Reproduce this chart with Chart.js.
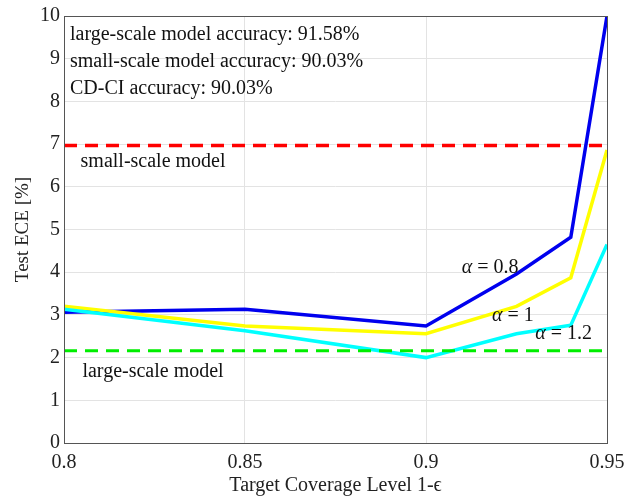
<!DOCTYPE html>
<html>
<head>
<meta charset="utf-8">
<script src="https://cdn.jsdelivr.net/npm/chart.js@4"></script>
<style>
  body { margin: 0; background: #fff; }
  #wrap { width: 637px; height: 498px; }
</style>
</head>
<body>
<div id="wrap"><canvas id="myChart"></canvas></div>
<script>
// datos
const coverage = [0.8, 0.85, 0.9, 0.925, 0.94, 0.95];
const eceAlpha08 = [3.06, 3.13, 2.74, 3.96, 4.82, 10.0];
const eceAlpha1 = [3.2, 2.74, 2.56, 3.2, 3.87, 6.86];
const eceAlpha12 = [3.13, 2.63, 2.0, 2.56, 2.76, 4.65];
const smallModelECE = 6.97;
const largeModelECE = 2.16;
const xTicks = [0.8, 0.85, 0.9, 0.95];
const yTicks = [0, 1, 2, 3, 4, 5, 6, 7, 8, 9, 10];
const accuracyNotes = [
    "large-scale model accuracy: 91.58%",
    "small-scale model accuracy: 90.03%",
    "CD-CI accuracy: 90.03%"
];

const serif = "'Liberation Serif', 'Times New Roman', serif";

function toPoints(ys) {
    return coverage.map((x, i) => ({ x: x, y: ys[i] }));
}
function flatLine(v) {
    return [{ x: xTicks[0], y: v }, { x: xTicks[xTicks.length - 1], y: v }];
}

// textos dentro del area del grafico
const textPlugin = {
    id: "textos",
    afterDatasetsDraw(chart) {
        const c = chart.ctx;
        const xs = chart.scales.x, ys = chart.scales.y;
        c.save();
        c.fillStyle = "#111";
        c.font = "20px " + serif;
        c.textBaseline = "middle";
        c.textAlign = "left";
        accuracyNotes.forEach((t, i) => {
            c.fillText(t, chart.chartArea.left + 6, chart.chartArea.top + 19 + i * 27);
        });
        c.textAlign = "center";
        c.fillText("small-scale model", xs.getPixelForValue(0.8246), ys.getPixelForValue(6.58));
        c.fillText("large-scale model", xs.getPixelForValue(0.8246), ys.getPixelForValue(1.68));
        const alphaLabel = (val, x, y) => {
            c.font = "italic 20px " + serif;
            const a = "α";
            const rest = " = " + val;
            const wa = c.measureText(a).width;
            c.font = "20px " + serif;
            const wr = c.measureText(rest).width;
            const px = xs.getPixelForValue(x) - (wa + wr) / 2;
            const py = ys.getPixelForValue(y);
            c.textAlign = "left";
            c.font = "italic 20px " + serif;
            c.fillText(a, px, py);
            c.font = "20px " + serif;
            c.fillText(rest, px + wa, py);
        };
        alphaLabel("0.8", 0.9177, 4.11);
        alphaLabel("1", 0.924, 2.99);
        alphaLabel("1.2", 0.938, 2.56);
        // marco del eje
        const a = chart.chartArea;
        c.strokeStyle = "#555";
        c.lineWidth = 1;
        c.strokeRect(a.left + 0.5, a.top + 0.5, a.right - a.left, a.bottom - a.top);
        c.restore();
    }
};

const ctx = document.getElementById("myChart").getContext("2d");
const myChart = new Chart(ctx, {
    type: "line",
    data: {
        datasets: [
            { label: "small-scale model", data: flatLine(smallModelECE), borderColor: "#ff0000", borderWidth: 3.5, borderDash: [13, 8], pointRadius: 0 },
            { label: "large-scale model", data: flatLine(largeModelECE), borderColor: "#00ee00", borderWidth: 3, borderDash: [13, 8], pointRadius: 0 },
            { label: "α = 1.2", data: toPoints(eceAlpha12), borderColor: "#00ffff", borderWidth: 3.5, pointRadius: 0 },
            { label: "α = 1", data: toPoints(eceAlpha1), borderColor: "#ffff00", borderWidth: 3.5, pointRadius: 0 },
            { label: "α = 0.8", data: toPoints(eceAlpha08), borderColor: "#0000ee", borderWidth: 3.5, pointRadius: 0 }
        ]
    },
    options: {
        responsive: true,
        maintainAspectRatio: false,
        animation: false,
        layout: { padding: { top: 15, right: 30, left: 0, bottom: 0 } },
        plugins: { legend: { display: false }, tooltip: { enabled: false } },
        scales: {
            x: {
                type: "linear",
                min: 0.8,
                max: 0.95,
                afterBuildTicks: axis => { axis.ticks = xTicks.map(v => ({ value: v })); },
                afterFit: axis => { axis.height = 55; },
                ticks: {
                    color: "#222",
                    font: { family: serif, size: 20 },
                    maxRotation: 0,
                    padding: 8,
                    callback: v => String(v)
                },
                grid: { color: "#e3e3e3", drawTicks: false },
                border: { display: false },
                title: { display: true, text: "Target Coverage Level 1-ϵ", color: "#222", font: { family: serif, size: 20 }, padding: { top: 0, bottom: 0 } }
            },
            y: {
                min: 0,
                max: 10,
                afterBuildTicks: axis => { axis.ticks = yTicks.map(v => ({ value: v })); },
                afterFit: axis => { axis.width = 64; },
                ticks: { color: "#222", font: { family: serif, size: 20 }, padding: 4 },
                grid: { color: "#e3e3e3", drawTicks: false },
                border: { display: false },
                title: { display: true, text: "Test ECE [%]", color: "#222", font: { family: serif, size: 19 }, padding: { top: 12, bottom: 0 } }
            }
        }
    },
    plugins: [textPlugin]
});
</script>
</body>
</html>
